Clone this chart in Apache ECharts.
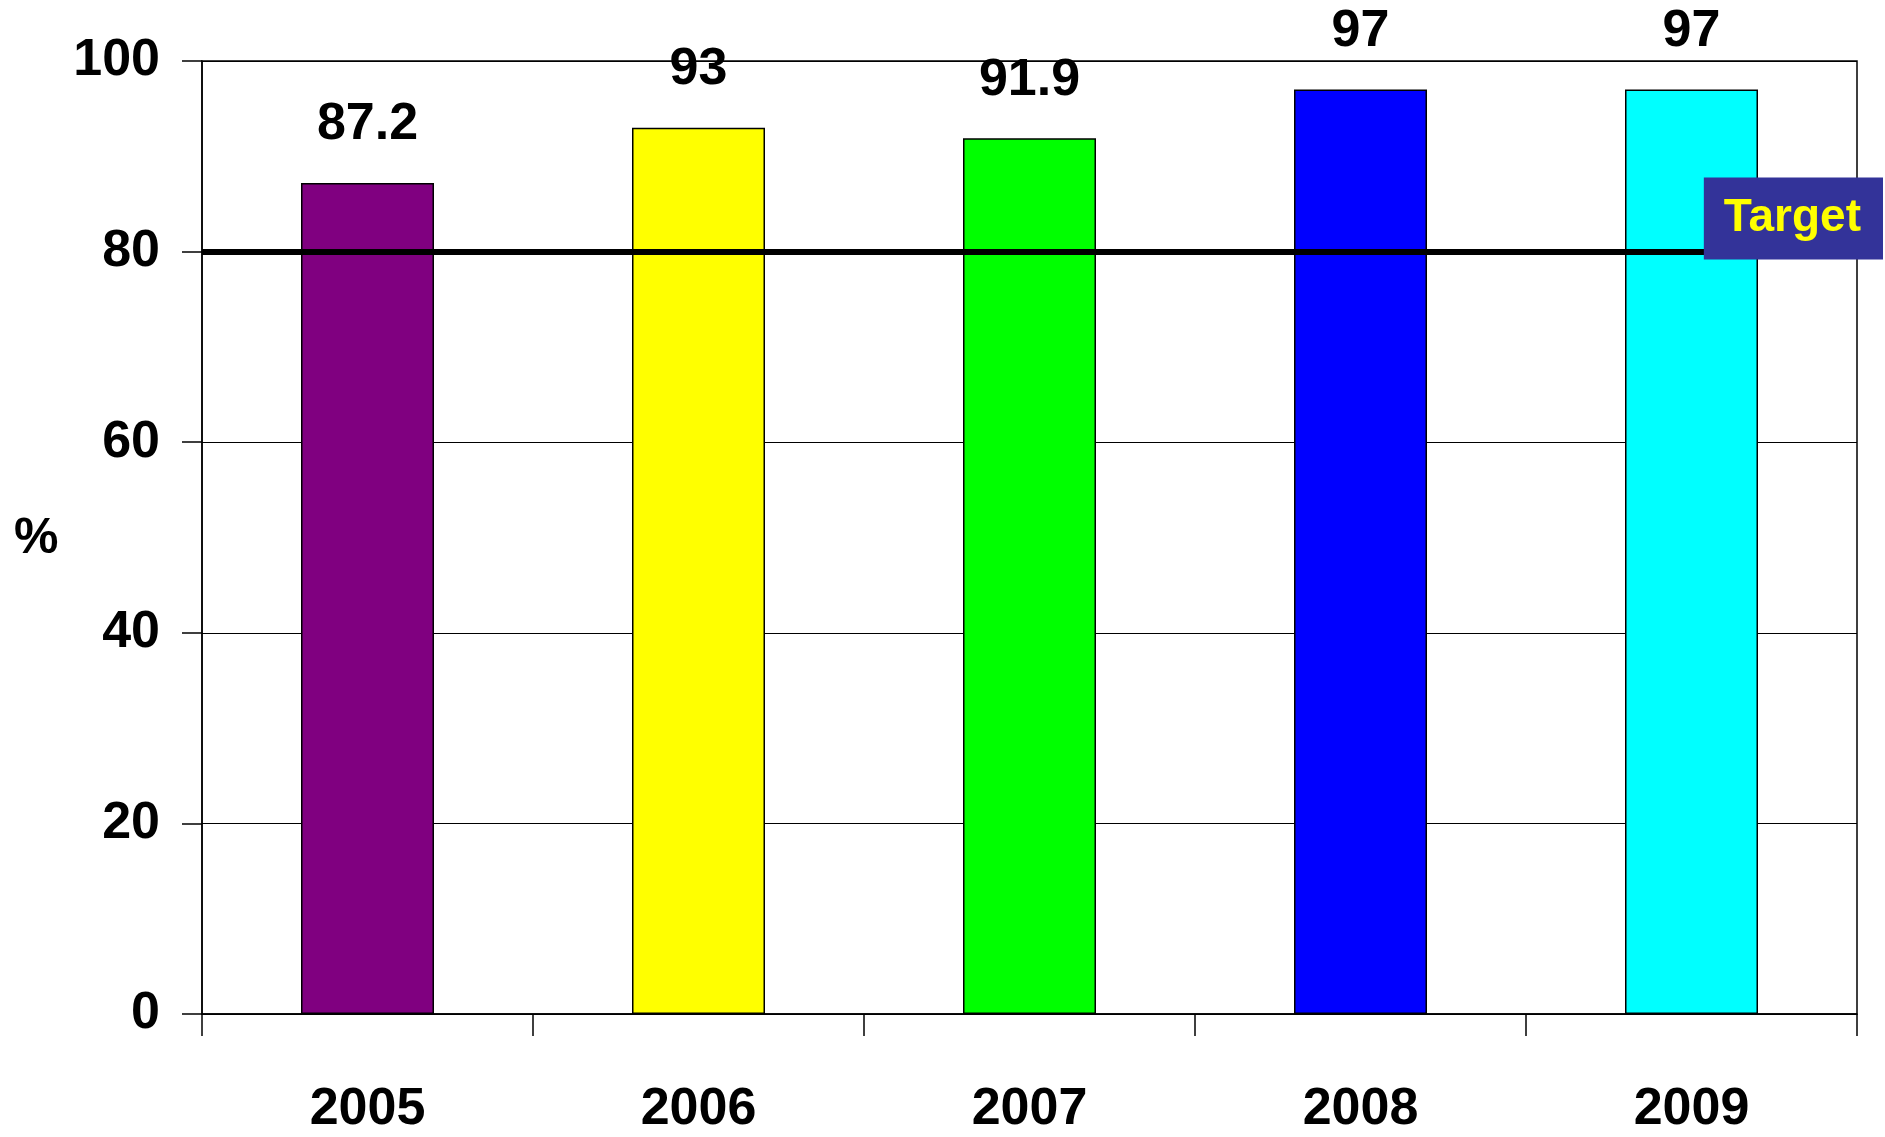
<!DOCTYPE html>
<html><head><meta charset="utf-8">
<script src="https://cdn.jsdelivr.net/npm/echarts@6/dist/echarts.min.js"></script>
<style>html,body{margin:0;padding:0;background:#fff}#c{width:1885px;height:1137px}</style>
</head><body><div id="c"></div>
<script>
const years = ['2005','2006','2007','2008','2009'];
const values = [87.2, 93, 91.9, 97, 97];
const colors = ['#800080','#FFFF00','#00FF00','#0000FF','#00FFFF'];
const target = 80;
const F = '"Liberation Sans Narrow", "Arial Narrow", sans-serif';
const chart = echarts.init(document.getElementById('c'));
chart.setOption({
  animation:false,
  grid:{left:202,right:28,top:61,bottom:123,show:true,borderColor:'#000',borderWidth:1.5,backgroundColor:'transparent'},
  graphic:[{type:'text',left:14,top:514,style:{text:'%',font:'bold 50px '+F,fill:'#000'}}],
  xAxis:{type:'category',data:years,boundaryGap:true,
    axisLine:{lineStyle:{color:'#000',width:1.5}},
    axisTick:{show:true,interval:0,length:22,lineStyle:{color:'#000',width:1.5}},
    axisLabel:{margin:70,fontFamily:F,fontWeight:'bold',fontSize:52,color:'#000'}},
  yAxis:{type:'value',min:0,max:100,interval:20,
    axisLine:{show:true,lineStyle:{color:'#000',width:1.5}},
    axisTick:{show:true,length:20,lineStyle:{color:'#000',width:1.5}},
    splitLine:{lineStyle:{color:'#000',width:1.2}},
    axisLabel:{margin:42,fontFamily:F,fontWeight:'bold',fontSize:52,color:'#000'}},
  series:[{type:'bar',barWidth:133,
    data:values.map((v,i)=>({value:v,itemStyle:{color:colors[i],borderColor:'#000',borderWidth:1.5}})),
    label:{show:true,position:'top',distance:32,fontFamily:F,fontWeight:'bold',fontSize:52,color:'#000'},
    markLine:{symbol:'none',silent:true,z:5,
      lineStyle:{color:'#000',width:6,type:'solid'},
      data:[{yAxis:target}],
      label:{show:true,position:'insideEndTop',formatter:'Target',distance:[-26,-8],
        fontFamily:'"Liberation Sans", Arial, sans-serif',fontWeight:'bold',fontSize:46,color:'#FFFF00',
        backgroundColor:'#333399',padding:[18,22,18,20]}}}]
});
</script></body></html>
